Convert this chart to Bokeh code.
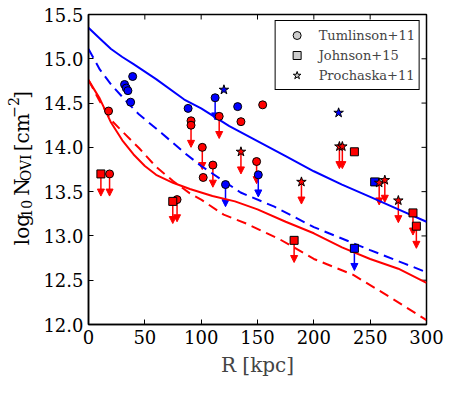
import math
from bokeh.plotting import figure
from bokeh.layouts import row
from bokeh.models import (Range1d, FixedTicker, Arrow, NormalHead,
                          ColumnDataSource, Legend, LegendItem, Label, PrintfTickFormatter)
from bokeh.embed import file_html
from bokeh.resources import INLINE

# ---------------- model curves ----------------
blue_solid_r = [0, 10, 20, 30, 40, 60, 85, 100, 125, 150, 175, 200, 225, 250, 275, 300]
blue_solid_n = [15.35, 15.23, 15.11, 15.02, 14.94, 14.77, 14.54, 14.44, 14.24, 14.07, 13.90, 13.73, 13.58, 13.44, 13.30, 13.16]

blue_dash_r = [0, 10, 20, 35, 45, 65, 85, 100, 135, 165, 200, 250, 280, 300]
blue_dash_n = [15.11, 14.88, 14.71, 14.50, 14.37, 14.16, 13.94, 13.79, 13.49, 13.33, 13.10, 12.84, 12.69, 12.59]

red_solid_r = [0, 10, 20, 30, 40, 50, 60, 75, 90, 110, 130, 150, 175, 200, 225, 250, 275, 300]
red_solid_n = [14.76, 14.55, 14.28, 14.08, 13.92, 13.79, 13.69, 13.60, 13.53, 13.45, 13.39, 13.30, 13.16, 13.03, 12.87, 12.74, 12.63, 12.47]

red_dash_r = [0, 10, 20, 30, 45, 60, 75, 90, 100, 120, 140, 170, 200, 235, 270, 300]
red_dash_n = [14.76, 14.52, 14.31, 14.18, 13.99, 13.78, 13.62, 13.48, 13.41, 13.24, 13.14, 12.96, 12.74, 12.56, 12.29, 12.05]

# ---------------- observations ----------------
# Tumlinson+11 (circles)
tum_r = [32, 33.5, 35, 39.2, 37.4, 88.4, 112.4, 132.4, 121.6, 150.7,
         17.8, 18.7, 91, 91, 101, 101.8, 110.4, 78.6, 116, 135.3, 154.6, 149.2]
tum_n = [14.71, 14.67, 14.64, 14.80, 14.51, 14.44, 14.56, 14.46, 13.58, 13.69,
         14.41, 13.70, 14.30, 14.25, 14.00, 13.66, 13.80, 13.41, 14.35, 14.29, 14.48, 13.84]
tum_c = ["blue"] * 10 + ["red"] * 12
tum_lim = [0, 0, 0, 0, 0, 0, 1, 0, 1, 1,
           0, 1, 0, 1, 1, 0, 1, 1, 1, 0, 0, 1]

# Johnson+15 (squares)
joh_r = [11, 74.8, 182.5, 236, 288, 291, 254, 236]
joh_n = [13.70, 13.39, 12.95, 13.95, 13.26, 13.11, 13.61, 12.86]
joh_c = ["red"] * 6 + ["blue"] * 2
joh_lim = [1, 1, 1, 0, 1, 1, 0, 1]

# Prochaska+11 (stars)
pro_r = [120.2, 222, 135.3, 189, 222.7, 225.3, 258, 263, 275]
pro_n = [14.65, 14.39, 13.95, 13.61, 14.01, 14.01, 13.60, 13.63, 13.40]
pro_c = ["blue"] * 2 + ["red"] * 7
pro_lim = [0, 0, 1, 1, 1, 1, 1, 1, 1]

legend_labels = ["Tumlinson+11", "Johnson+15", "Prochaska+11"]
x_ticks = [0, 50, 100, 150, 200, 250, 300]
y_ticks = [12.0, 12.5, 13.0, 13.5, 14.0, 14.5, 15.0, 15.5]
X_MIN, X_MAX = 0, 300
Y_MIN, Y_MAX = 12.0, 15.5

RED = "#ff0000"
BLUE = "#0000ff"
SERIF = "DejaVu Serif"
ARROW_LEN = 0.25

p = figure(frame_width=338, frame_height=310,
           x_range=Range1d(X_MIN, X_MAX), y_range=Range1d(Y_MIN, Y_MAX),
           output_backend="svg", toolbar_location=None,
           min_border_left=47, min_border_right=23, min_border_top=14, min_border_bottom=59)
p.grid.visible = False
p.outline_line_color = "black"
p.outline_line_width = 1.5
p.background_fill_color = "white"

for ax in (p.xaxis[0], p.yaxis[0]):
    ax.major_tick_in = 5
    ax.major_tick_out = 0
    ax.minor_tick_line_color = None
    ax.major_tick_line_color = "black"
    ax.major_tick_line_width = 1
    ax.axis_line_color = "black"
    ax.axis_line_width = 1.5
    ax.major_label_text_font = SERIF
    ax.major_label_text_font_size = "18px"
    ax.major_label_text_color = "black"
    ax.major_label_standoff = 5

xa = p.xaxis[0]
ya = p.yaxis[0]
xa.ticker = FixedTicker(ticks=x_ticks)
ya.ticker = FixedTicker(ticks=y_ticks)
xa.formatter = PrintfTickFormatter(format="%d")
ya.formatter = PrintfTickFormatter(format="%.1f")
xa.axis_label = "R [kpc]"
xa.axis_label_text_font = SERIF
xa.axis_label_text_font_style = "normal"
xa.axis_label_text_font_size = "20px"
xa.axis_label_standoff = 6

# inward ticks on the top and right edges
p.ray(x=x_ticks, y=[Y_MAX] * len(x_ticks), length=5, length_units="screen",
      angle=-math.pi / 2, line_color="black", line_width=1)
p.ray(x=[X_MAX] * len(y_ticks), y=y_ticks, length=5, length_units="screen",
      angle=math.pi, line_color="black", line_width=1)

# model curves
p.line(blue_solid_r, blue_solid_n, line_color=BLUE, line_width=2)
p.line(blue_dash_r, blue_dash_n, line_color=BLUE, line_width=2, line_dash="10 6")
p.line(red_solid_r, red_solid_n, line_color=RED, line_width=2)
p.line(red_dash_r, red_dash_n, line_color=RED, line_width=2, line_dash="10 6")

# upper-limit arrows
for rs, ns, cs, ls in [(tum_r, tum_n, tum_c, tum_lim), (joh_r, joh_n, joh_c, joh_lim),
                       (pro_r, pro_n, pro_c, pro_lim)]:
    for col, hexc in [("red", RED), ("blue", BLUE)]:
        xs = [r for r, c, l in zip(rs, cs, ls) if l and c == col]
        ys = [n for n, c, l in zip(ns, cs, ls) if l and c == col]
        if not xs:
            continue
        src = ColumnDataSource(dict(x0=xs, y0=ys, y1=[y - ARROW_LEN for y in ys]))
        p.add_layout(Arrow(end=NormalHead(size=7, fill_color=hexc, line_color=hexc),
                           x_start="x0", y_start="y0", x_end="x0", y_end="y1",
                           line_color=hexc, line_width=1.5, source=src, level="underlay"))

# markers
col_map = {"red": RED, "blue": BLUE}
p.scatter(tum_r, tum_n, marker="circle", size=8, fill_color=[col_map[c] for c in tum_c],
          line_color="black", line_width=1)
p.scatter(joh_r, joh_n, marker="square", size=8, fill_color=[col_map[c] for c in joh_c],
          line_color="black", line_width=1)
p.scatter(pro_r, pro_n, marker="star", size=10, fill_color=[col_map[c] for c in pro_c],
          line_color="black", line_width=1)

# legend (grey proxies, not drawn in the plot area)
nan = float("nan")
lg = []
for m in ["circle", "square", "star"]:
    lg.append(p.scatter(x=[nan], y=[nan], marker=m, size=8, fill_color="#cccccc",
                        line_color="black", line_width=1))
legend = Legend(items=[LegendItem(label=t, renderers=[r]) for t, r in zip(legend_labels, lg)],
                location="top_right", margin=6, padding=4, spacing=0,
                glyph_width=34, glyph_height=20, label_height=20, label_standoff=5,
                label_text_font=SERIF, label_text_font_size="13px",
                border_line_color="black", border_line_width=1.5, border_line_alpha=1,
                background_fill_color="white", background_fill_alpha=1)
p.add_layout(legend)

# y-axis label, built from pieces in a narrow side panel (pixel coordinates)
lab = figure(width=40, height=383, x_range=Range1d(0, 40), y_range=Range1d(0, 383),
             x_axis_location=None, y_axis_location=None, output_backend="svg",
             toolbar_location=None, min_border=0)
lab.grid.visible = False
lab.outline_line_color = None
pieces = [
    ("log", 21.5, 98.0, "20px"),
    ("10", 25.5, 132.0, "14px"),
    ("N", 21.5, 159.0, "20px"),
    ("OVI", 25.5, 177.0, "14px"),
    ("[cm", 21.5, 214.0, "20px"),
    ("\u22122", 13.0, 255.5, "14px"),
    ("]", 21.5, 279.0, "20px"),
]
for txt, x, y, fs in pieces:
    lab.add_layout(Label(x=x, y=y, text=txt, angle=math.pi / 2, text_font=SERIF,
                         text_font_size=fs, text_align="left", text_baseline="alphabetic",
                         text_color="black"))

layout = row(lab, p)
open("out.html", "w").write(file_html(layout, INLINE))
